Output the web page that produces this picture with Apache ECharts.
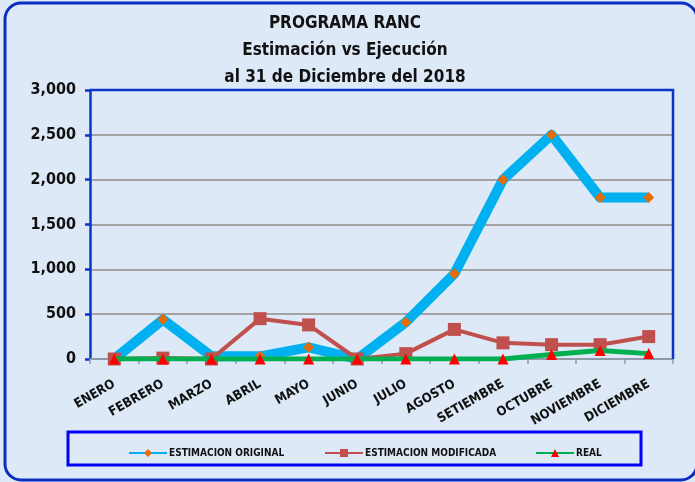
<!DOCTYPE html>
<html>
<head>
<meta charset="utf-8">
<script src="https://cdn.jsdelivr.net/npm/echarts@6/dist/echarts.min.js"></script>
<style>
  html, body { margin: 0; padding: 0; background: #dde9f6; }
  #chart { width: 695px; height: 482px; }
</style>
</head>
<body>
<div id="chart"></div>
<script>
  // datos
  var meses = ['ENERO', 'FEBRERO', 'MARZO', 'ABRIL', 'MAYO', 'JUNIO', 'JULIO', 'AGOSTO',
    'SETIEMBRE', 'OCTUBRE', 'NOVIEMBRE', 'DICIEMBRE'];
  var estimacionOriginal = [0, 440, 30, 30, 130, 0, 410, 950, 2000, 2500, 1800, 1800];
  var estimacionModificada = [0, 10, 0, 450, 380, 0, 60, 330, 180, 160, 160, 250];
  var real = [0, 0, 0, 0, 0, 0, 0, 0, 0, 50, 95, 60];
  var titulo = ['PROGRAMA RANC', 'Estimación vs Ejecución', 'al 31 de Diciembre del 2018'];
  var nombres = ['ESTIMACION ORIGINAL', 'ESTIMACION MODIFICADA', 'REAL'];

  var fuente = '"DejaVu Sans Condensed", "Liberation Sans Narrow", "Noto Sans", sans-serif';

  // una leyenda por serie, para ubicar cada una como en el original
  var posLeyenda = [123, 319, 530];
  var leyendas = nombres.map(function (n, i) {
    return {
      top: 443,
      left: posLeyenda[i],
      itemWidth: 38,
      itemHeight: 10,
      itemGap: 3,
      textStyle: { fontSize: 10, fontWeight: 'bold', color: '#111', fontFamily: fuente, padding: [0, 0, 0, -3] },
      data: [n]
    };
  });

  var chart = echarts.init(document.getElementById('chart'));
  chart.setOption({
    backgroundColor: '#dde9f6',
    animation: false,
    textStyle: { fontFamily: fuente },
    title: {
      text: titulo.join('\n'),
      left: 340,
      textAlign: 'center',
      top: 5,
      textStyle: { fontSize: 17, fontWeight: 'bold', color: '#111', lineHeight: 27, fontFamily: fuente }
    },
    graphic: [
      {
        type: 'rect', z: -1, silent: true,
        shape: { x: 5, y: 3, width: 692, height: 477, r: 16 },
        style: { fill: 'none', stroke: '#0a2fc0', lineWidth: 3 }
      },
      {
        type: 'rect', z: -1, silent: true,
        shape: { x: 68, y: 432, width: 573, height: 33 },
        style: { fill: 'none', stroke: '#0000ff', lineWidth: 3 }
      },
      {
        type: 'polyline', z: 1, silent: true,
        shape: { points: [[90, 90], [673, 90], [673, 359]] },
        style: { fill: 'none', stroke: '#0a35c8', lineWidth: 2.5 }
      }
    ],
    legend: leyendas,
    grid: { left: 90, right: 22, top: 90, bottom: 123 },
    xAxis: {
      type: 'category',
      data: meses,
      axisLine: { lineStyle: { color: '#8f9aa8', width: 2 } },
      axisTick: { show: true, length: 5, lineStyle: { color: '#8f9aa8', width: 1.5 } },
      axisLabel: {
        interval: 0, rotate: 30, margin: 24,
        fontSize: 13, fontWeight: 'bold', color: '#111', fontFamily: fuente
      }
    },
    yAxis: {
      type: 'value',
      min: 0, max: 3000, interval: 500,
      axisLine: { show: true, lineStyle: { color: '#0a35c8', width: 2.5 } },
      axisTick: { show: true, length: 5, lineStyle: { color: '#0a35c8', width: 2.5 } },
      axisLabel: {
        margin: 14, fontSize: 16, fontWeight: 'bold', color: '#111', fontFamily: fuente,
        formatter: function (v) { return v.toLocaleString('en-US'); }
      },
      splitLine: { lineStyle: { color: '#a3a3a3', width: 2 } }
    },
    series: [
      {
        name: nombres[0],
        type: 'line',
        data: estimacionOriginal,
        z: 2,
        symbol: 'diamond',
        symbolSize: 11,
        lineStyle: { color: '#00b0f0', width: 10, join: 'round' },
        itemStyle: { color: '#e46c0a' }
      },
      {
        name: nombres[1],
        type: 'line',
        data: estimacionModificada,
        z: 3,
        symbol: 'rect',
        symbolSize: 13,
        lineStyle: { color: '#c0504d', width: 4 },
        itemStyle: { color: '#c0504d' }
      },
      {
        name: nombres[2],
        type: 'line',
        data: real,
        z: 4,
        symbol: 'triangle',
        symbolSize: 11,
        lineStyle: { color: '#00b050', width: 5 },
        itemStyle: { color: '#ff0000' }
      }
    ]
  });
</script>
</body>
</html>
